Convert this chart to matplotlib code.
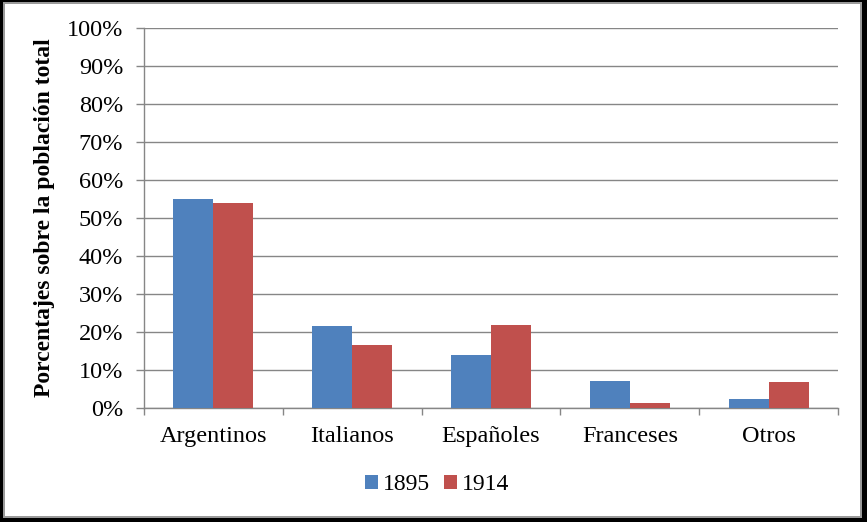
import matplotlib
matplotlib.use('Agg')
import matplotlib.pyplot as plt
import matplotlib.patches as mpatches
from matplotlib.ticker import FuncFormatter
import numpy as np

# Data
categories = ['Argentinos', 'Italianos', 'Españoles', 'Franceses', 'Otros']
pct_1895 = [55.0, 21.6, 14.0, 7.0, 2.5]
pct_1914 = [54.0, 16.5, 21.8, 1.2, 6.8]
series_labels = ['1895', '1914']

blue = '#4F81BD'
red = '#C0504D'
grid_gray = '#868686'

plt.rcParams['font.family'] = ['Liberation Serif', 'DejaVu Serif']

W, H = 867, 522
fig = plt.figure(figsize=(W / 100, H / 100), dpi=100)
fig.patch.set_facecolor('black')

# frame: black outer border, thin gray inner border, white chart area
fig.patches.append(mpatches.Rectangle((3 / W, 4 / H), (W - 5 - 3) / W, (H - 2 - 4) / H,
                                      transform=fig.transFigure, facecolor='#9a9a9a',
                                      edgecolor='none', zorder=-10))
fig.patches.append(mpatches.Rectangle((5 / W, 6 / H), (W - 7 - 5) / W, (H - 4 - 6) / H,
                                      transform=fig.transFigure, facecolor='white',
                                      edgecolor='none', zorder=-9))

ax = fig.add_axes([144 / W, (H - 408) / H, 694 / W, 380 / H])
ax.set_facecolor('none')

x = np.arange(len(categories))
width = 0.288
ax.bar(x - width / 2, pct_1895, width, color=blue, label=series_labels[0], zorder=3)
ax.bar(x + width / 2, pct_1914, width, color=red, label=series_labels[1], zorder=3)

ax.set_xlim(-0.5, len(categories) - 0.5)
ax.set_ylim(0, 100)
ax.set_yticks(np.arange(0, 101, 10))
ax.yaxis.set_major_formatter(FuncFormatter(lambda v, p: f'{int(v)}%'))
ax.yaxis.grid(True, color=grid_gray, linewidth=1.0, zorder=0)
ax.set_axisbelow(True)

# category labels centred, tick marks at the boundaries
ax.set_xticks(x)
ax.set_xticklabels(categories, fontsize=17.5)
ax.tick_params(axis='x', which='major', length=0, pad=13)
ax.set_xticks(np.arange(-0.5, len(categories), 1), minor=True)
ax.tick_params(axis='x', which='minor', length=5, color=grid_gray, width=1)
ax.tick_params(axis='y', labelsize=17.5, length=6, color=grid_gray, width=1, pad=9)

for side in ['top', 'right']:
    ax.spines[side].set_visible(False)
for side in ['left', 'bottom']:
    ax.spines[side].set_color(grid_gray)
    ax.spines[side].set_linewidth(1.0)

fig.text(45 / W, 1 - 218 / H, 'Porcentajes sobre la población total', rotation=90,
         ha='center', va='center', fontsize=17, fontweight='bold')

fig.legend(loc='center', bbox_to_anchor=(437 / W, 1 - 485 / H), ncol=2, frameon=False,
           fontsize=17, handlelength=0.55, handleheight=0.55, handletextpad=0.2,
           columnspacing=0.6)

fig.savefig('out.png', dpi=100, facecolor=fig.get_facecolor())
